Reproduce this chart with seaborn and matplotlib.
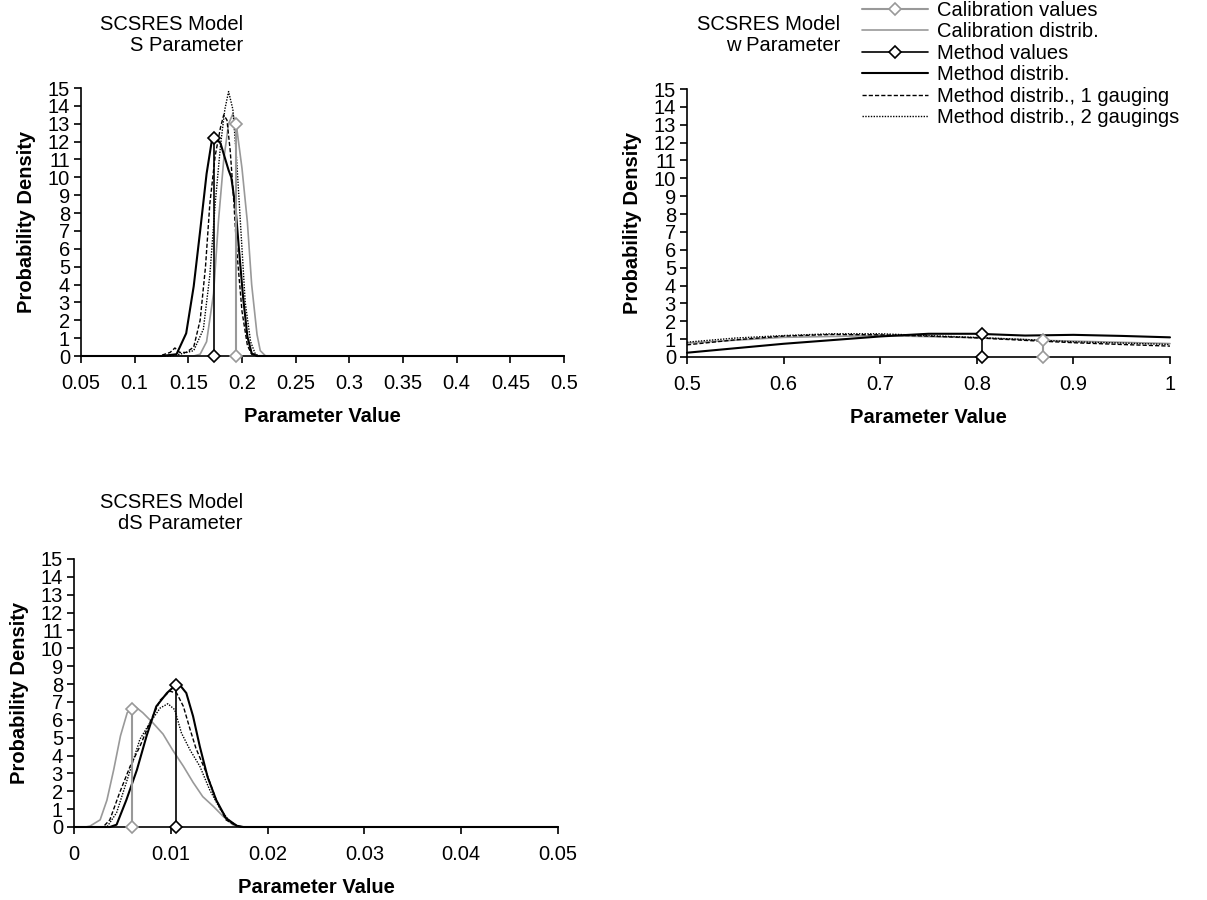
import numpy as np
import pandas as pd
import matplotlib
matplotlib.use("Agg")
import matplotlib.pyplot as plt
import seaborn as sns

# ---------------------------------------------------------------- data
# S parameter
s_cal_val_x = [0.194, 0.194]
s_cal_val_y = [0.0, 13.0]
s_met_val_x = [0.174, 0.174]
s_met_val_y = [0.0, 12.2]

s_cal_x = [0.05, 0.155, 0.161, 0.167, 0.1735, 0.178, 0.183, 0.1875, 0.1915, 0.195, 0.200, 0.205, 0.209, 0.214, 0.217, 0.222, 0.5]
s_cal_y = [0.0, 0.0, 0.1, 0.8, 3.5, 7.5, 11.0, 13.0, 13.55, 12.8, 10.5, 7.5, 4.0, 1.2, 0.3, 0.0, 0.0]
s_met_x = [0.05, 0.125, 0.139, 0.148, 0.155, 0.161, 0.167, 0.172, 0.175, 0.180, 0.184, 0.1875, 0.190, 0.194, 0.197, 0.201, 0.205, 0.209, 0.214, 0.5]
s_met_y = [0.0, 0.0, 0.1, 1.27, 3.9, 7.0, 10.2, 12.1, 12.25, 11.9, 11.1, 10.4, 10.0, 8.3, 6.1, 3.3, 1.1, 0.15, 0.0, 0.0]
s_g1_x = [0.05, 0.123, 0.133, 0.1375, 0.142, 0.148, 0.155, 0.161, 0.166, 0.170, 0.175, 0.180, 0.183, 0.186, 0.189, 0.192, 0.195, 0.200, 0.205, 0.209, 0.214, 0.5]
s_g1_y = [0.0, 0.0, 0.2, 0.45, 0.2, 0.2, 0.5, 2.0, 5.0, 8.5, 11.2, 12.8, 13.5, 13.2, 11.5, 9.0, 6.0, 2.5, 0.6, 0.1, 0.0, 0.0]
s_g2_x = [0.05, 0.133, 0.142, 0.155, 0.164, 0.170, 0.175, 0.180, 0.184, 0.1875, 0.1915, 0.195, 0.199, 0.203, 0.208, 0.2125, 0.217, 0.5]
s_g2_y = [0.0, 0.0, 0.1, 0.3, 1.5, 4.5, 8.5, 11.8, 13.8, 14.8, 13.8, 11.0, 7.0, 3.0, 0.8, 0.1, 0.0, 0.0]

# w parameter
w_cal_val_x = [0.869, 0.869]
w_cal_val_y = [0.0, 0.93]
w_met_val_x = [0.805, 0.805]
w_met_val_y = [0.0, 1.3]

w_cal_x = [0.5, 0.6, 0.7, 0.8, 0.87, 0.95, 1.0]
w_cal_y = [0.78, 1.1, 1.2, 1.08, 0.93, 0.82, 0.75]
w_met_x = [0.5, 0.6, 0.7, 0.75, 0.8, 0.85, 0.9, 0.95, 1.0]
w_met_y = [0.24, 0.74, 1.15, 1.3, 1.3, 1.2, 1.24, 1.18, 1.1]
w_g1_x = [0.5, 0.55, 0.6, 0.65, 0.7, 0.75, 0.8, 0.85, 0.9, 0.95, 1.0]
w_g1_y = [0.68, 0.96, 1.17, 1.26, 1.24, 1.17, 1.07, 0.93, 0.8, 0.7, 0.61]
w_g2_x = [0.5, 0.55, 0.6, 0.65, 0.7, 0.75, 0.8, 0.85, 0.9, 0.95, 1.0]
w_g2_y = [0.83, 1.06, 1.2, 1.3, 1.3, 1.2, 1.09, 0.98, 0.85, 0.78, 0.7]

# dS parameter
d_cal_val_x = [0.00595, 0.00595]
d_cal_val_y = [0.0, 6.62]
d_met_val_x = [0.01058, 0.01058]
d_met_val_y = [0.0, 7.93]

d_cal_x = [0.0, 0.0012, 0.00165, 0.0027, 0.0034, 0.0041, 0.0048, 0.0055, 0.0063, 0.0071, 0.0082, 0.0092, 0.0102, 0.0113, 0.0123, 0.0133, 0.0144, 0.0154, 0.0164, 0.0173, 0.05]
d_cal_y = [0.0, 0.0, 0.05, 0.4, 1.5, 3.2, 5.1, 6.4, 6.75, 6.4, 5.8, 5.2, 4.3, 3.4, 2.5, 1.7, 1.15, 0.6, 0.13, 0.0, 0.0]
d_met_x = [0.0, 0.0037, 0.0044, 0.0054, 0.0065, 0.0075, 0.0085, 0.0096, 0.0104, 0.0109, 0.0116, 0.0123, 0.0130, 0.0138, 0.0147, 0.0157, 0.0168, 0.0175, 0.05]
d_met_y = [0.0, 0.0, 0.13, 1.5, 3.2, 5.1, 6.75, 7.5, 7.9, 7.97, 7.5, 6.2, 4.5, 2.8, 1.5, 0.5, 0.07, 0.0, 0.0]
d_g1_x = [0.0, 0.003, 0.0037, 0.0047, 0.0058, 0.0068, 0.0078, 0.0089, 0.0099, 0.0106, 0.0113, 0.0120, 0.0126, 0.0137, 0.0147, 0.0157, 0.0168, 0.0175, 0.05]
d_g1_y = [0.0, 0.0, 0.4, 1.9, 3.4, 4.5, 5.8, 7.1, 7.6, 7.5, 6.75, 5.45, 4.4, 3.0, 1.5, 0.4, 0.05, 0.0, 0.0]
d_g2_x = [0.0, 0.0034, 0.0044, 0.0055, 0.0068, 0.0078, 0.0089, 0.0097, 0.0104, 0.0111, 0.0120, 0.0130, 0.0140, 0.0151, 0.0161, 0.0171, 0.0178, 0.05]
d_g2_y = [0.0, 0.0, 0.8, 2.65, 4.9, 5.8, 6.66, 6.9, 6.57, 5.26, 4.3, 3.4, 2.1, 1.0, 0.3, 0.03, 0.0, 0.0]

legend_labels = ["Calibration values", "Calibration distrib.", "Method values",
                 "Method distrib.", "Method distrib., 1 gauging", "Method distrib., 2 gaugings"]

GRAY = "#999999"
FS = 14.5


def draw_panel(ax, cal_val, met_val, cal, met, g1, g2):
    common = dict(ax=ax, sort=False, estimator=None, errorbar=None, clip_on=False)
    sns.lineplot(x=cal_val[0], y=cal_val[1], color=GRAY, lw=1.5, marker="D",
                 markersize=6, markerfacecolor="white", markeredgecolor=GRAY,
                 markeredgewidth=1.2, label=legend_labels[0], zorder=5, **common)
    sns.lineplot(x=cal[0], y=cal[1], color=GRAY, lw=1.2, label=legend_labels[1], **common)
    sns.lineplot(x=met_val[0], y=met_val[1], color="black", lw=1.2, marker="D",
                 markersize=6, markerfacecolor="white", markeredgecolor="black",
                 markeredgewidth=1.2, label=legend_labels[2], zorder=5, **common)
    sns.lineplot(x=met[0], y=met[1], color="black", lw=1.5, label=legend_labels[3], **common)
    sns.lineplot(x=g1[0], y=g1[1], color="black", lw=1.0, ls=(0, (3, 1.5)), label=legend_labels[4], **common)
    sns.lineplot(x=g2[0], y=g2[1], color="black", lw=1.0, ls=(0, (1, 1)), label=legend_labels[5], **common)
    ax.set_ylim(0, 15)
    ax.set_yticks(range(0, 16))
    ax.set_xlabel("Parameter Value", fontsize=FS, fontweight="bold", labelpad=10)
    ax.set_ylabel("Probability Density", fontsize=FS, fontweight="bold", labelpad=8)
    ax.tick_params(axis="y", labelsize=FS, direction="out", length=5, width=1.2, pad=3)
    ax.tick_params(axis="x", labelsize=FS, direction="out", length=5, width=1.2, pad=8)
    for s in ["left", "bottom"]:
        ax.spines[s].set_linewidth(1.2)
    sns.despine(ax=ax)
    handles, labels = ax.get_legend_handles_labels()
    ax.get_legend().remove()
    return handles, labels


def main():
    sns.set_style("ticks")
    plt.rcParams["font.family"] = ["Liberation Sans", "DejaVu Sans"]
    plt.rcParams["text.color"] = "black"
    plt.rcParams["axes.labelcolor"] = "black"
    plt.rcParams["xtick.color"] = "black"
    plt.rcParams["ytick.color"] = "black"
    plt.rcParams["axes.edgecolor"] = "black"
    fig = plt.figure(figsize=(12.07, 9), dpi=100)

    ax1 = fig.add_axes([81 / 1207, 1 - 356 / 900, 483 / 1207, 268 / 900])
    draw_panel(ax1, (s_cal_val_x, s_cal_val_y), (s_met_val_x, s_met_val_y),
               (s_cal_x, s_cal_y), (s_met_x, s_met_y), (s_g1_x, s_g1_y), (s_g2_x, s_g2_y))
    ax1.set_xlim(0.05, 0.5)
    ax1.set_xticks(np.arange(0.05, 0.501, 0.05))
    ax1.set_xticklabels(["0.05", "0.1", "0.15", "0.2", "0.25", "0.3", "0.35", "0.4", "0.45", "0.5"])

    ax2 = fig.add_axes([687 / 1207, 1 - 357 / 900, 483 / 1207, 268 / 900])
    handles, labels = draw_panel(ax2, (w_cal_val_x, w_cal_val_y), (w_met_val_x, w_met_val_y),
                                 (w_cal_x, w_cal_y), (w_met_x, w_met_y), (w_g1_x, w_g1_y), (w_g2_x, w_g2_y))
    ax2.set_xlim(0.5, 1.0)
    ax2.set_xticks(np.arange(0.5, 1.001, 0.1))
    ax2.set_xticklabels(["0.5", "0.6", "0.7", "0.8", "0.9", "1"])

    ax3 = fig.add_axes([74 / 1207, 1 - 827 / 900, 484 / 1207, 268 / 900])
    draw_panel(ax3, (d_cal_val_x, d_cal_val_y), (d_met_val_x, d_met_val_y),
               (d_cal_x, d_cal_y), (d_met_x, d_met_y), (d_g1_x, d_g1_y), (d_g2_x, d_g2_y))
    ax3.set_xlim(0, 0.05)
    ax3.set_xticks(np.arange(0, 0.0501, 0.01))
    ax3.set_xticklabels(["0", "0.01", "0.02", "0.03", "0.04", "0.05"])

    # panel titles
    fig.text(243 / 1207, 1 - 35 / 900, "SCSRES Model\nS Parameter", ha="right", va="center",
             fontsize=FS, linespacing=1.1)
    fig.text(840 / 1207, 1 - 35 / 900, "SCSRES Model\nw Parameter", ha="right", va="center",
             fontsize=FS, linespacing=1.1)
    fig.text(243 / 1207, 1 - 513 / 900, "SCSRES Model\ndS Parameter", ha="right", va="center",
             fontsize=FS, linespacing=1.1)

    fig.legend(handles, labels, loc="upper left", bbox_to_anchor=(862 / 1207, 1 - 1 / 900),
               frameon=False, fontsize=FS, borderpad=0, borderaxespad=0, labelspacing=0.12,
               handlelength=3.3, handletextpad=0.4, numpoints=1)

    fig.savefig("out.png", dpi=100)


if __name__ == "__main__":
    main()
